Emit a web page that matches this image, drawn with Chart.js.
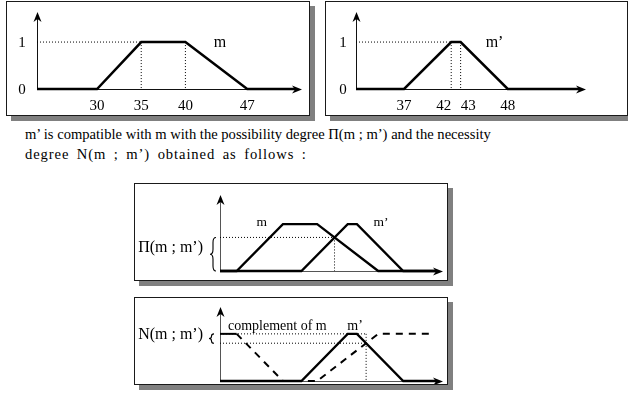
<!DOCTYPE html>
<html>
<head>
<meta charset="utf-8">
<script src="https://cdn.jsdelivr.net/npm/chart.js@4.4.1/dist/chart.umd.min.js"></script>
<style>
  body { margin: 0; background: #fff; font-family: "Liberation Serif", "Times New Roman", serif; }
  #page { position: relative; width: 628px; height: 399px; overflow: hidden; }
  .box { position: absolute; box-sizing: border-box; border: 1px solid #1a1a1a; background: #fff; box-shadow: 5px 5px 0 #808080; }
  .box canvas { position: absolute; left: 0; top: 0; }
  #para { position: absolute; left: 25px; top: 124px; font-size: 14.6px; line-height: 20px; color: #000; white-space: nowrap; }
  #para .l2 { letter-spacing: 0.9px; word-spacing: 3px; }
</style>
</head>
<body>
<div id="page">
  <div id="para">m’ is compatible with m with the possibility degree Π(m ; m’) and the necessity<br><span class="l2">degree N(m ; m’) obtained as follows :</span></div>
</div>
<script>
// membership functions: breakpoints on x and the grade at each breakpoint
const mX = [30, 35, 40, 47];
const m2X = [37, 42, 43, 48];
const grade = [0, 1, 1, 0];
const yTicks = [0, 1];
const yTickLabels = ['0', '1'];
const mTickLabels = ['30', '35', '40', '47'];
const m2TickLabels = ['37', '42', '43', '48'];
// axis extents of the two upper panels
const rangeM = [23.2, 53.2];
const rangeM2 = [31.9, 56.3];
// lower panels are a sketch: m is drawn a little narrower there
const sketchMX = [30, 35, 38.7, 45.3];
const sketchM2X = [37, 42, 43, 48];
const complementGrade = [1, 0, 0, 1];
const sketchRange = [28.2, 52.3];
const complementEnd = 51.3;

const panelOf = new Map();

// where two straight pieces cross
function crossing(ax, ay, bx, by) {
  const sa = (ay[1] - ay[0]) / (ax[1] - ax[0]);
  const sb = (by[1] - by[0]) / (bx[1] - bx[0]);
  const x = (by[0] - ay[0] + sa * ax[0] - sb * bx[0]) / (sa - sb);
  return { x: x, y: ay[0] + sa * (x - ax[0]) };
}

function shape(xs, ys, range, end) {
  const pts = xs.map((x, i) => ({ x: x, y: ys[i] }));
  return [{ x: range[0], y: ys[0] }, ...pts, { x: end, y: ys[ys.length - 1] }];
}

function line(points, opts) {
  return Object.assign({
    data: points, borderColor: '#000', borderWidth: 2.5, pointRadius: 0,
    fill: false, tension: 0, clip: { left: 4, top: 4, right: -6, bottom: 4 }
  }, opts);
}

function dotted(points) {
  return line(points, { borderWidth: 1, borderDash: [1, 2], clip: false });
}

function arrowHead(ctx, x, y, dir) {
  ctx.beginPath();
  if (dir === 'right') {
    ctx.moveTo(x, y); ctx.lineTo(x - 10, y - 4); ctx.lineTo(x - 7, y); ctx.lineTo(x - 10, y + 4);
  } else {
    ctx.moveTo(x, y); ctx.lineTo(x - 4, y + 10); ctx.lineTo(x, y + 7); ctx.lineTo(x + 4, y + 10);
  }
  ctx.closePath();
  ctx.fill();
}

function brace(ctx, x, y0, y1, w) {
  const h = y1 - y0, r = Math.min(5, h / 4), m = (y0 + y1) / 2;
  ctx.beginPath();
  ctx.moveTo(x + w, y0);
  ctx.quadraticCurveTo(x + w / 2, y0, x + w / 2, y0 + r);
  ctx.lineTo(x + w / 2, m - r);
  ctx.quadraticCurveTo(x + w / 2, m, x, m);
  ctx.quadraticCurveTo(x + w / 2, m, x + w / 2, m + r);
  ctx.lineTo(x + w / 2, y1 - r);
  ctx.quadraticCurveTo(x + w / 2, y1, x + w, y1);
  ctx.stroke();
}

const sketch = {
  id: 'sketch',
  beforeDatasetsDraw(chart) {
    const p = panelOf.get(chart.canvas);
    if (!p) return;
    const { ctx, chartArea: a } = chart;
    ctx.save();
    ctx.strokeStyle = p.axisColor;
    ctx.lineWidth = 1;
    ctx.beginPath();
    ctx.moveTo(a.left, a.bottom + 0.5); ctx.lineTo(a.right - 6, a.bottom + 0.5);
    ctx.moveTo(a.left + 0.5, a.bottom); ctx.lineTo(a.left + 0.5, a.top + 6);
    ctx.stroke();
    ctx.restore();
  },
  afterDatasetsDraw(chart) {
    const p = panelOf.get(chart.canvas);
    if (!p) return;
    const { ctx, chartArea: a, scales: { x, y } } = chart;
    ctx.save();
    ctx.fillStyle = '#000';
    ctx.strokeStyle = '#000';
    arrowHead(ctx, a.right, a.bottom + 0.5, 'right');
    arrowHead(ctx, a.left + 0.5, a.top, 'up');
    ctx.textBaseline = 'middle';
    ctx.font = p.tickFont;
    if (p.yLabels) {
      ctx.textAlign = 'center';
      p.yLabels.values.forEach((v, i) => {
        ctx.fillText(p.yLabels.labels[i], a.left - p.yLabels.gap, y.getPixelForValue(v) + 1);
      });
    }
    if (p.xLabels) {
      p.xLabels.values.forEach((v, i) => {
        ctx.textAlign = (p.xLabels.align && p.xLabels.align[i]) || 'center';
        ctx.fillText(p.xLabels.labels[i], x.getPixelForValue(v), a.bottom + 17);
      });
    }
    ctx.textAlign = 'center';
    (p.notes || []).forEach(n => {
      ctx.font = n.font;
      ctx.fillText(n.text, x.getPixelForValue(n.x), y.getPixelForValue(n.y));
    });
    if (p.side) {
      const s = p.side;
      const y0 = y.getPixelForValue(s.from), y1 = y.getPixelForValue(s.to);
      ctx.lineWidth = 1.1;
      brace(ctx, a.left - s.braceGap, y0, y1, s.braceWidth);
      ctx.font = s.font;
      ctx.textAlign = 'right';
      ctx.fillText(s.text, a.left - s.textGap, (y0 + y1) / 2 + s.dy);
    }
    ctx.restore();
  }
};

function makePanel(cfg) {
  const [bl, bt, br, bb] = cfg.box;
  const div = document.createElement('div');
  div.className = 'box';
  div.style.left = bl + 'px';
  div.style.top = bt + 'px';
  div.style.width = (br - bl + 1) + 'px';
  div.style.height = (bb - bt + 1) + 'px';
  const canvas = document.createElement('canvas');
  const cw = br - bl - 1, ch = bb - bt - 1;
  canvas.width = cw; canvas.height = ch;
  canvas.style.width = cw + 'px'; canvas.style.height = ch + 'px';
  div.appendChild(canvas);
  document.getElementById('page').appendChild(div);
  panelOf.set(canvas, cfg);
  const ox = bl + 1, oy = bt + 1;
  const [axL, axT, axR, axB] = cfg.area;
  new Chart(canvas, {
    type: 'line',
    data: { datasets: cfg.datasets },
    options: {
      responsive: false,
      animation: false,
      devicePixelRatio: 1,
      events: [],
      layout: { padding: { left: axL - ox, top: axT - oy, right: ox + cw - axR, bottom: oy + ch - axB } },
      scales: {
        x: { type: 'linear', min: cfg.range[0], max: cfg.range[1], display: false },
        y: { type: 'linear', min: 0, max: cfg.yMax, display: false }
      },
      plugins: { legend: { display: false }, tooltip: { enabled: false } }
    },
    plugins: [sketch]
  });
}

const TICK_FONT = '15px "Liberation Serif"';

// upper left: m
makePanel({
  box: [6, 1, 309, 115], area: [37, 12, 302, 89], range: rangeM, yMax: 1.64,
  axisColor: '#111', tickFont: TICK_FONT,
  datasets: [
    line(shape(mX, grade, rangeM, rangeM[1])),
    dotted([{ x: rangeM[0], y: 1 }, { x: mX[1], y: 1 }]),
    dotted([{ x: mX[1], y: 1 }, { x: mX[1], y: 0 }]),
    dotted([{ x: mX[2], y: 1 }, { x: mX[2], y: 0 }])
  ],
  yLabels: { values: yTicks, labels: yTickLabels, gap: 15 },
  xLabels: { values: mX, labels: mTickLabels },
  notes: [{ text: 'm', x: 43.9, y: 0.98, font: '16px "Liberation Serif"' }]
});

// upper right: m'
makePanel({
  box: [325, 1, 627, 115], area: [356, 12, 586, 89], range: rangeM2, yMax: 1.64,
  axisColor: '#111', tickFont: TICK_FONT,
  datasets: [
    line(shape(m2X, grade, rangeM2, rangeM2[1])),
    dotted([{ x: rangeM2[0], y: 1 }, { x: m2X[1], y: 1 }]),
    dotted([{ x: m2X[1], y: 1 }, { x: m2X[1], y: 0 }]),
    dotted([{ x: m2X[2], y: 1 }, { x: m2X[2], y: 0 }])
  ],
  yLabels: { values: yTicks, labels: yTickLabels, gap: 13 },
  xLabels: { values: m2X, labels: m2TickLabels, align: ['center', 'right', 'left', 'center'] },
  notes: [{ text: 'm’', x: 46.6, y: 0.98, font: '16px "Liberation Serif"' }]
});

// possibility: height of the crossing of m and m'
const pi = crossing([sketchMX[2], sketchMX[3]], [1, 0], [sketchM2X[0], sketchM2X[1]], [0, 1]);
makePanel({
  box: [134, 183, 447, 280], area: [220, 195, 443, 271], range: sketchRange, yMax: 1.62,
  axisColor: '#555', tickFont: TICK_FONT,
  datasets: [
    line(shape(sketchMX, grade, sketchRange, sketchRange[1]), { borderWidth: 2.3 }),
    line(shape(sketchM2X, grade, sketchRange, sketchRange[1]), { borderWidth: 2.3 }),
    dotted([{ x: sketchRange[0], y: pi.y }, { x: pi.x, y: pi.y }]),
    dotted([{ x: pi.x, y: pi.y }, { x: pi.x, y: 0 }])
  ],
  notes: [
    { text: 'm', x: 32.7, y: 1.04, font: '13.5px "Liberation Serif"' },
    { text: 'm’', x: 45.6, y: 1.04, font: '13.5px "Liberation Serif"' }
  ],
  side: { text: 'Π(m ; m’)', font: '16px "Liberation Serif"', from: pi.y, to: 0,
          braceGap: 10, braceWidth: 6, textGap: 17, dy: -6 }
});

// necessity: height of the crossing of the complement of m and m'
const nc = crossing([sketchMX[2], sketchMX[3]], [0, 1], [sketchM2X[2], sketchM2X[3]], [1, 0]);
makePanel({
  box: [134, 297, 447, 384], area: [220, 307, 443, 381], range: sketchRange, yMax: 1.57,
  axisColor: '#555', tickFont: TICK_FONT,
  datasets: [
    line(shape(sketchM2X, grade, sketchRange, sketchRange[1]), { borderWidth: 2.3 }),
    line(shape(sketchMX, complementGrade, sketchRange, complementEnd), {
      borderWidth: 2, clip: false,
      segment: { borderDash: c => (c.p0DataIndex === 0 ? [] : [7, 6]) }
    }),
    dotted([{ x: sketchRange[0], y: 1 }, { x: nc.x, y: 1 }]),
    dotted([{ x: sketchRange[0], y: nc.y }, { x: nc.x, y: nc.y }]),
    dotted([{ x: nc.x, y: 1 }, { x: nc.x, y: 0 }])
  ],
  notes: [
    { text: 'complement of m', x: 34.4, y: 1.15, font: '14px "Liberation Serif"' },
    { text: 'm’', x: 42.8, y: 1.15, font: '14px "Liberation Serif"' }
  ],
  side: { text: 'N(m ; m’)', font: '16px "Liberation Serif"', from: 1, to: nc.y,
          braceGap: 11, braceWidth: 5, textGap: 17, dy: -4 }
});
</script>
</body>
</html>
